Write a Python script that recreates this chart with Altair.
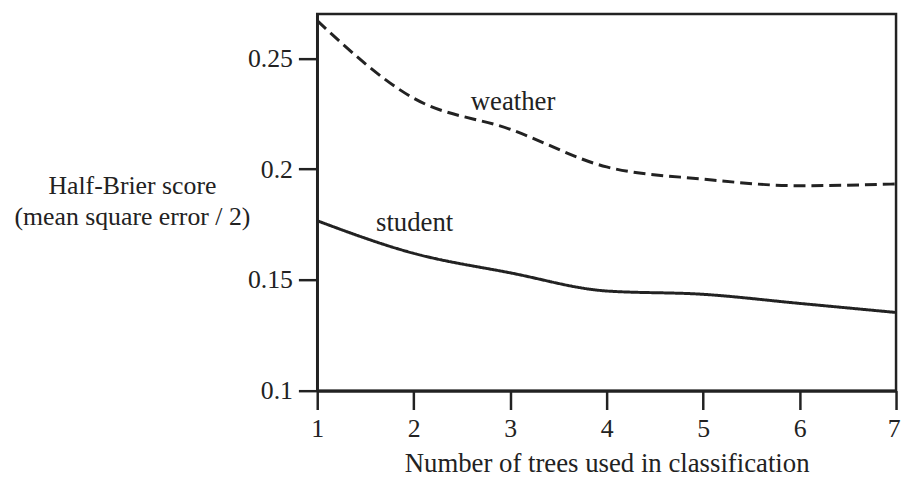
import altair as alt
import pandas as pd

# ---- data ----
trees = [1, 2, 3, 4, 5, 6, 7]
weather = [0.267, 0.232, 0.218, 0.201, 0.1955, 0.1925, 0.1933]
student = [0.1767, 0.162, 0.1532, 0.145, 0.1435, 0.1394, 0.1353]

label_names = ["weather", "student"]
label_x = [3.03, 2.01]
label_y = [0.2303, 0.1757]

x_ticks = [1, 2, 3, 4, 5, 6, 7]
y_ticks = [0.1, 0.15, 0.2, 0.25]

df = pd.DataFrame({
    "trees": trees * 2,
    "score": weather + student,
    "series": ["weather"] * len(trees) + ["student"] * len(trees),
})
labels = pd.DataFrame({"name": label_names, "x": label_x, "y": label_y})

FONT = "Liberation Serif"
INK = "#222222"

x_scale = alt.Scale(domain=[1, 7], nice=False, zero=False)
y_scale = alt.Scale(domain=[0.1, 0.27], nice=False, zero=False)

last_tick = "datum.value == %d" % x_ticks[-1]

lines = alt.Chart(df).mark_line(color=INK, strokeWidth=3, interpolate="monotone").encode(
    x=alt.X("trees:Q", scale=x_scale,
            axis=alt.Axis(values=x_ticks, format="d", labelFlush=False,
                          labelAlign=alt.condition(last_tick, alt.value("right"), alt.value("center")),
                          labelOffset=alt.condition(last_tick, alt.value(4), alt.value(0)),
                          title="Number of trees used in classification",
                          titleFontSize=27, titleBaseline="alphabetic",
                          titleY=82, domainWidth=3)),
    y=alt.Y("score:Q", scale=y_scale,
            axis=alt.Axis(values=y_ticks, format="~g", labelFlush=False,
                          title=["Half-Brier score", "(mean square error / 2)"],
                          titleAngle=0, titleAlign="center", titleBaseline="alphabetic",
                          titleX=-187, titleY=181, titleLineHeight=31,
                          domainWidth=2.5)),
    strokeDash=alt.StrokeDash("series:N",
                              scale=alt.Scale(domain=["weather", "student"],
                                              range=[[12, 6], [1, 0]]),
                              legend=None),
    detail="series:N",
)

text = alt.Chart(labels).mark_text(font=FONT, fontSize=27, color=INK,
                                   align="center", baseline="middle").encode(
    x=alt.X("x:Q", scale=x_scale),
    y=alt.Y("y:Q", scale=y_scale),
    text="name:N",
)

chart = (lines + text).properties(
    width=584,
    height=380,
    padding={"left": 312, "top": 4, "right": 5, "bottom": 88},
    autosize=alt.AutoSizeParams(type="none"),
).configure_view(
    stroke=INK, strokeWidth=2.5,
).configure_axis(
    grid=False,
    domainColor=INK, tickColor=INK, labelColor=INK, titleColor=INK,
    tickSize=19, tickWidth=2.5,
    labelFont=FONT, labelFontSize=26, labelPadding=6,
    titleFont=FONT, titleFontSize=26, titleFontWeight="normal",
)

chart.save("out.html", embed_options={"renderer": "svg", "actions": False})
